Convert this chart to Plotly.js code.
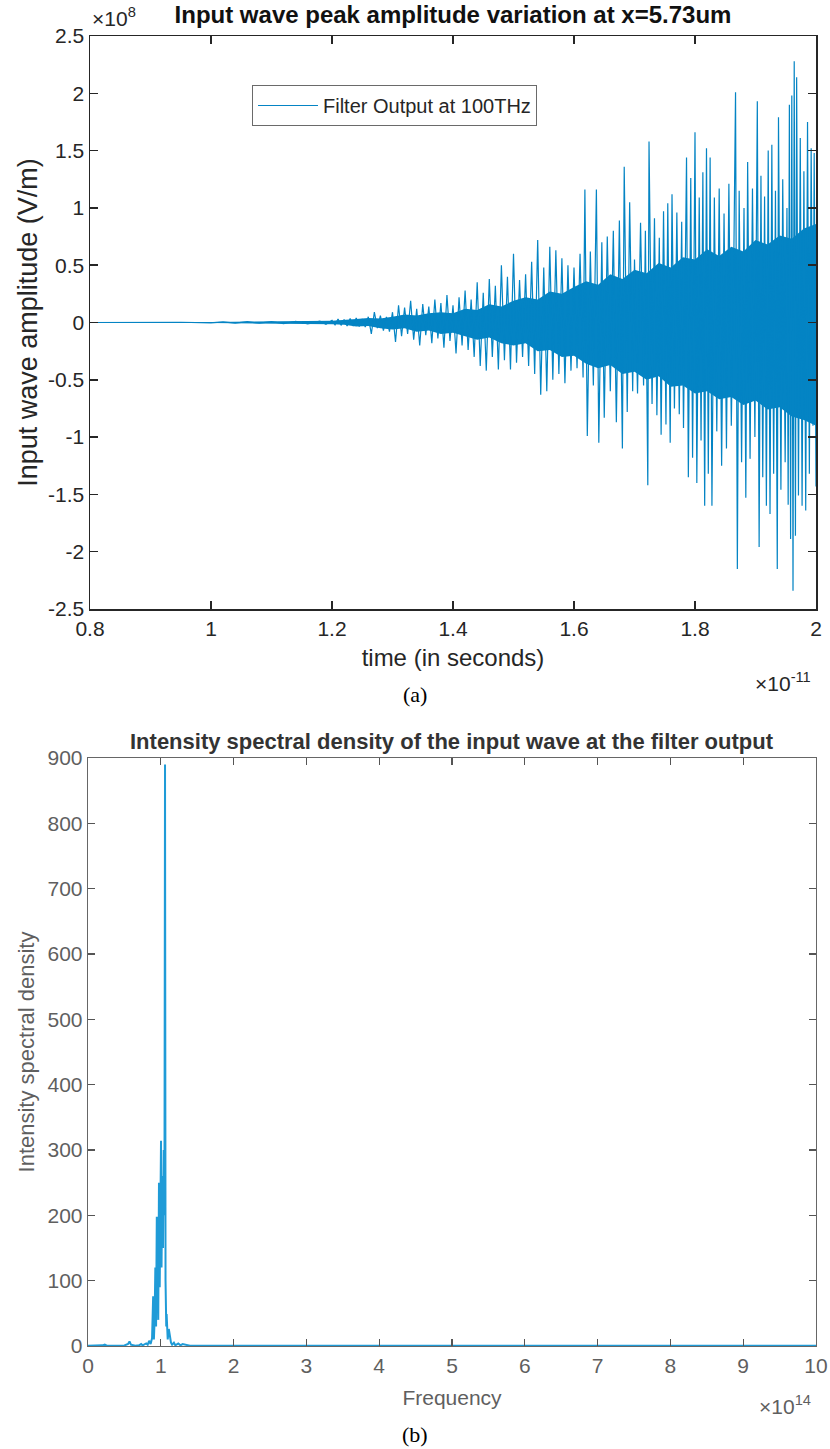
<!DOCTYPE html>
<html><head><meta charset="utf-8">
<script src="https://cdn.plot.ly/plotly-3.0.1.min.js"></script>
<style>html,body{margin:0;padding:0;background:#fff}#chart{width:830px;height:1449px}</style>
</head><body><div id="chart"></div><script>
// ---------- (a) time-domain wave, t in 1e-11 s, amplitude in 1e8 V/m ----------
const coreT  = [0.80,1.00,1.20,1.22,1.24,1.26,1.28,1.30,1.32,1.34,1.36,1.38,1.40,1.42,1.44,1.46,1.48,1.50,1.52,1.54,1.56,1.58,1.60,1.62,1.64,1.66,1.68,1.70,1.72,1.74,1.76,1.78,1.80,1.82,1.84,1.86,1.88,1.90,1.92,1.94,1.96,1.98,2.00];
const coreHi = [0.003,0.005,0.015,0.02,0.03,0.04,0.035,0.05,0.07,0.06,0.08,0.09,0.08,0.12,0.11,0.16,0.14,0.19,0.22,0.20,0.27,0.25,0.31,0.36,0.33,0.42,0.38,0.46,0.43,0.52,0.48,0.57,0.55,0.64,0.58,0.66,0.62,0.72,0.68,0.76,0.73,0.82,0.86];
const coreLo = [-0.003,-0.005,-0.015,-0.02,-0.035,-0.03,-0.05,-0.06,-0.05,-0.08,-0.07,-0.10,-0.09,-0.12,-0.15,-0.13,-0.18,-0.20,-0.18,-0.25,-0.24,-0.30,-0.29,-0.36,-0.40,-0.37,-0.45,-0.43,-0.50,-0.47,-0.56,-0.55,-0.62,-0.60,-0.67,-0.65,-0.72,-0.68,-0.76,-0.74,-0.82,-0.85,-0.90];

const waveT = [0.800,0.950,1.000,1.020,1.040,1.060,1.080,1.100,1.120,1.140,1.160,1.180,1.190,
 1.200,1.205,1.210,1.215,1.220,1.225,1.230,1.235,1.240,1.245,1.250,1.255,1.260,1.265,1.270,1.275,1.280,1.285,1.290,1.295,1.300,
 1.305,1.310,1.315,1.320,1.325,1.330,1.335,1.340,1.345,1.350,1.355,1.360,1.365,1.370,1.375,1.380,1.385,1.390,1.395,1.400,
 1.405,1.410,1.415,1.420,1.425,1.430,1.435,1.440,1.445,1.450,1.455,1.460,1.465,1.470,1.475,1.480,1.485,1.490,1.495,1.500,
 1.505,1.510,1.515,1.520,1.525,1.530,1.535,1.540,1.545,1.550,1.555,1.560,1.565,1.570,1.575,1.580,1.585,1.590,1.595,1.600,
 1.605,1.610,1.615,1.618,1.622,1.627,1.632,1.637,1.641,1.646,1.650,1.655,1.660,1.665,1.670,1.675,1.680,1.683,1.688,1.692,1.697,1.700,
 1.705,1.710,1.715,1.718,1.722,1.724,1.729,1.733,1.737,1.741,1.744,1.748,1.752,1.755,1.759,1.762,1.766,1.770,1.774,1.778,1.781,1.786,1.789,1.793,1.796,1.800,
 1.803,1.807,1.810,1.813,1.816,1.819,1.822,1.825,1.828,1.832,1.836,1.840,1.844,1.848,1.852,1.856,1.860,1.864,1.867,1.870,1.873,1.877,1.881,1.884,1.887,1.891,1.895,1.899,1.903,1.906,
 1.909,1.912,1.915,1.918,1.921,1.924,1.927,1.930,1.933,1.936,1.938,1.942,1.945,1.949,1.952,1.954,1.956,1.958,1.960,1.962,1.964,1.966,1.968,1.971,1.974,1.977,1.980,1.983,1.986,1.989,1.992,1.995,1.997,2.000];
const waveV = [0,0.002,-0.004,0.005,-0.006,0.007,-0.006,0.008,-0.010,0.009,-0.012,0.012,-0.015,
 0.02,-0.02,0.03,-0.025,0.025,-0.03,0.035,-0.03,0.04,-0.035,0.03,-0.04,0.05,-0.10,0.09,-0.05,0.06,-0.07,0.05,-0.08,0.09,
 -0.17,0.15,-0.12,0.13,-0.10,0.19,-0.15,0.12,-0.20,0.16,-0.11,0.14,-0.18,0.20,-0.14,0.17,-0.22,0.24,-0.16,0.15,
 -0.27,0.22,-0.20,0.28,-0.24,0.20,-0.30,0.35,-0.38,0.26,-0.42,0.38,-0.30,0.32,-0.41,0.50,-0.33,0.40,-0.41,0.60,
 -0.35,0.37,-0.30,0.42,-0.38,0.53,-0.45,0.72,-0.63,0.48,-0.60,0.66,-0.50,0.63,-0.45,0.56,-0.53,0.50,-0.42,0.48,
 -0.40,0.60,-0.48,1.16,-0.99,0.62,-0.55,1.16,-1.05,0.70,-0.83,0.75,-0.60,0.80,-0.87,0.89,-1.10,1.36,-0.78,1.05,-0.60,0.55,
 -0.62,0.87,-0.55,0.80,-1.42,1.58,-0.71,0.91,-0.81,0.74,-0.98,0.97,-0.89,1.04,-1.05,1.12,-0.75,0.96,-0.80,0.88,-0.92,1.44,-1.35,1.26,-1.18,1.66,
 -1.40,1.09,-1.03,1.31,-1.60,1.52,-1.32,1.44,-1.60,1.09,-0.95,1.17,-1.25,0.95,-1.10,1.21,-0.90,0.48,2.01,-2.15,1.15,-1.22,1.00,-1.53,1.40,-1.19,1.17,-1.00,1.93,-1.96,
 1.28,-1.35,1.10,-1.60,1.50,-1.67,1.55,-1.32,1.15,-2.15,1.79,-1.46,1.25,-1.22,1.00,-1.59,1.90,-1.89,1.98,-2.34,2.28,-1.86,2.14,-1.51,1.61,-1.60,1.32,-1.64,1.75,-1.32,1.52,-0.90,1.48,-1.43];

const xTicksA = [0.8, 1, 1.2, 1.4, 1.6, 1.8, 2];
const xTickTextA = ['0.8', '1', '1.2', '1.4', '1.6', '1.8', '2'];
const yTicksA = [-2.5, -2, -1.5, -1, -0.5, 0, 0.5, 1, 1.5, 2, 2.5];
const yTickTextA = ['-2.5', '-2', '-1.5', '-1', '-0.5', '0', '0.5', '1', '1.5', '2', '2.5'];

// ---------- (b) spectrum, frequency in 1e14 Hz ----------
const freq = [0, 0.10, 0.20, 0.23, 0.26, 0.40, 0.50, 0.55, 0.57, 0.59, 0.65, 0.70, 0.73, 0.75, 0.80, 0.82, 0.84, 0.86, 0.88,
 0.895, 0.905, 0.915, 0.925, 0.935, 0.945, 0.950, 0.955, 0.965, 0.975, 0.985, 0.995, 1.003, 1.010, 1.020, 1.030, 1.040, 1.050,
 1.058, 1.065, 1.075, 1.080, 1.095, 1.110, 1.140, 1.155, 1.180, 1.200, 1.240, 1.270, 1.300, 1.360, 1.400, 1.500,
 2, 3, 4, 5, 6, 7, 8, 9, 10];
const psd = [0.5, 0.3, 1, 2, 0.5, 0.5, 0.8, 3, 7, 2, 0.5, 1, 3, 1, 4, 2, 8, 3, 12,
 76, 10, 40, 120, 30, 198, 60, 150, 40, 250, 90, 200, 314, 120, 260, 150, 300, 200,
 890, 100, 30, 49, 10, 26, 5, 2, 5, 1, 4, 1, 3, 1, 0.5, 0.3,
 0.3, 0.3, 0.3, 0.3, 0.3, 0.3, 0.3, 0.3, 0.3];
const xTicksB = [0, 1, 2, 3, 4, 5, 6, 7, 8, 9, 10];
const yTicksB = [0, 100, 200, 300, 400, 500, 600, 700, 800, 900];

// ---------- layout helpers (pixel -> paper) ----------
const W = 830, H = 1449;
const px = x => x / W, py = y => 1 - y / H;

const blueA = '#0484c4', blueB = '#1f9bd7';
const dark = '#262626', grayB = '#5f5f5f';
const sans = 'Liberation Sans, Arial, sans-serif';

const traces = [
  {x: coreT, y: coreHi, type: 'scatter', mode: 'lines', line: {width: 0, color: blueA}, hoverinfo: 'skip', showlegend: false, xaxis: 'x', yaxis: 'y'},
  {x: coreT, y: coreLo, type: 'scatter', mode: 'lines', line: {width: 0, color: blueA}, fill: 'tonexty', fillcolor: blueA, hoverinfo: 'skip', showlegend: false, xaxis: 'x', yaxis: 'y'},
  {x: waveT, y: waveV, type: 'scatter', mode: 'lines', name: 'Filter Output at 100THz', line: {width: 1.2, color: blueA}, showlegend: true, xaxis: 'x', yaxis: 'y'},
  {x: freq, y: psd, type: 'scatter', mode: 'lines', name: 'ISD', line: {width: 2, color: blueB}, showlegend: false, xaxis: 'x2', yaxis: 'y2'}
];

const layout = {
  width: W, height: H,
  margin: {l: 0, r: 0, t: 0, b: 0},
  paper_bgcolor: '#fff', plot_bgcolor: '#fff',
  font: {family: sans, color: dark},
  title: {text: '<b>Input wave peak amplitude variation at x=5.73um</b>', x: 453 / W, xanchor: 'center', y: py(15), yanchor: 'middle',
          font: {family: sans, size: 24, color: '#111'}},
  showlegend: true,
  legend: {x: px(252), y: py(85), xanchor: 'left', yanchor: 'top', bgcolor: '#fff', bordercolor: '#6a6a6a', borderwidth: 1,
           itemwidth: 60, font: {family: sans, size: 20, color: dark}},
  xaxis: {domain: [px(90), px(816)], anchor: 'y', range: [0.8, 2], tickvals: xTicksA, ticktext: xTickTextA,
          ticks: 'inside', ticklen: 8, tickwidth: 1.5, tickcolor: dark, showline: true, linecolor: dark, linewidth: 1.5, mirror: 'ticks',
          showgrid: false, zeroline: false, tickfont: {size: 21, color: dark, family: sans},
          title: {text: 'time (in seconds)', font: {size: 24, color: dark, family: sans}, standoff: 10}},
  yaxis: {domain: [py(609), py(36)], anchor: 'x', range: [-2.5, 2.5], tickvals: yTicksA, ticktext: yTickTextA,
          ticks: 'inside', ticklen: 8, tickwidth: 1.5, tickcolor: dark, showline: true, linecolor: dark, linewidth: 1.5, mirror: 'ticks',
          showgrid: false, zeroline: false, tickfont: {size: 21, color: dark, family: sans},
          title: {text: 'Input wave amplitude (V/m)', font: {size: 27, color: dark, family: sans}, standoff: 2}},
  xaxis2: {domain: [px(88), px(816)], anchor: 'y2', range: [0, 10], tickvals: xTicksB,
           ticks: 'inside', ticklen: 7, tickwidth: 1.2, tickcolor: '#555', showline: true, linecolor: '#666', linewidth: 1.3, mirror: 'ticks',
           showgrid: false, zeroline: false, tickfont: {size: 21, color: grayB, family: sans},
           title: {text: 'Frequency', font: {size: 21, color: grayB, family: sans}, standoff: 14}},
  yaxis2: {domain: [py(1346), py(758)], anchor: 'x2', range: [0, 900], tickvals: yTicksB,
           ticks: 'inside', ticklen: 7, tickwidth: 1.2, tickcolor: '#555', showline: true, linecolor: '#666', linewidth: 1.3, mirror: 'ticks',
           showgrid: false, zeroline: false, tickfont: {size: 21, color: grayB, family: sans},
           title: {text: 'Intensity spectral density', font: {size: 22, color: grayB, family: sans}, standoff: 6}},
  annotations: [
    {xref: 'paper', yref: 'paper', x: px(90), y: py(17), xanchor: 'left', yanchor: 'middle', showarrow: false,
     text: '×10<sup>8</sup>', font: {family: sans, size: 21, color: dark}},
    {xref: 'paper', yref: 'paper', x: px(813), y: py(682), xanchor: 'right', yanchor: 'middle', showarrow: false,
     text: '×10<sup>-11</sup>', font: {family: sans, size: 21, color: dark}},
    {xref: 'paper', yref: 'paper', x: px(415), y: py(694), xanchor: 'center', yanchor: 'middle', showarrow: false,
     text: '(a)', font: {family: 'Liberation Serif, Times New Roman, serif', size: 22, color: '#000'}},
    {xref: 'paper', yref: 'paper', x: px(452), y: py(741), xanchor: 'center', yanchor: 'middle', showarrow: false,
     text: '<b>Intensity spectral density of the input wave at the filter output</b>', font: {family: sans, size: 22, color: '#333'}},
    {xref: 'paper', yref: 'paper', x: px(813), y: py(1405), xanchor: 'right', yanchor: 'middle', showarrow: false,
     text: '×10<sup>14</sup>', font: {family: sans, size: 21, color: grayB}},
    {xref: 'paper', yref: 'paper', x: px(415), y: py(1434), xanchor: 'center', yanchor: 'middle', showarrow: false,
     text: '(b)', font: {family: 'Liberation Serif, Times New Roman, serif', size: 22, color: '#000'}}
  ]
};

Plotly.newPlot('chart', traces, layout, {displayModeBar: false, staticPlot: true});
</script></body></html>
